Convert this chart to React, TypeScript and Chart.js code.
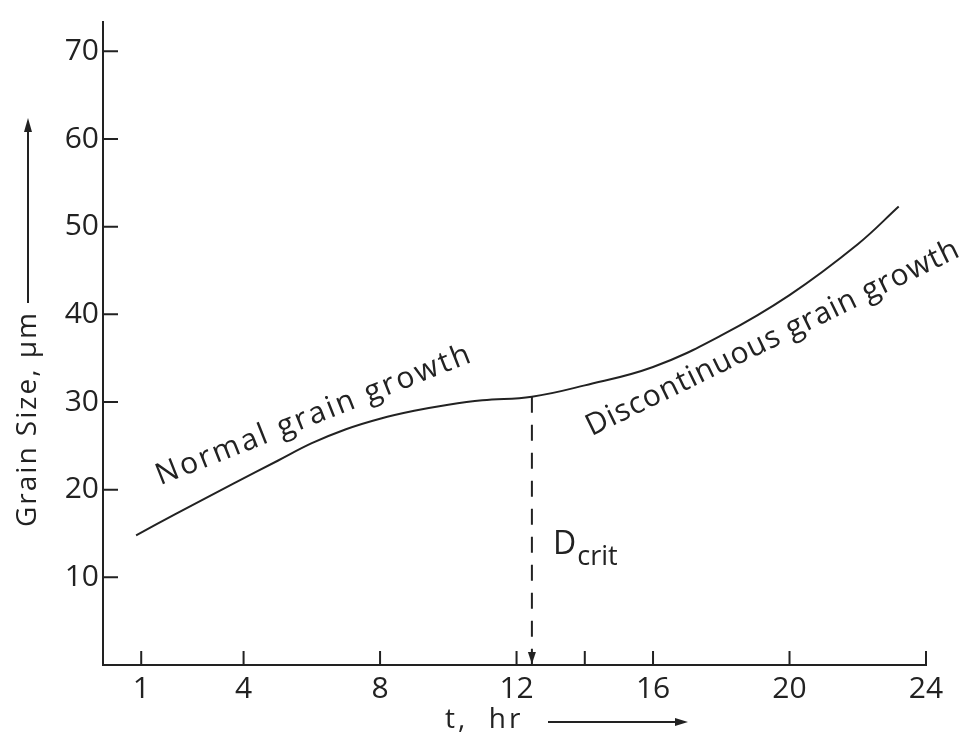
import React, { useEffect, useRef } from 'react';
import { Chart, registerables } from 'chart.js';
Chart.register(...registerables);

// ---- data ----
const normalTime = [0.85, 2, 3.7, 5, 6, 7, 8, 9, 10, 11, 12.45];
const normalSize = [14.8, 17.2, 20.7, 23.3, 25.3, 26.9, 28.1, 29.0, 29.7, 30.2, 30.6];
const discTime = [14, 16, 18, 20, 22, 23.2];
const discSize = [31.9, 34.0, 37.6, 42.2, 48.0, 52.3];
const critTime = [12.45, 12.45];
const critSize = [30.6, 0];
const xTicks = [1, 4, 8, 12, 14, 16, 20, 24];
const xTickLabels = ['1', '4', '8', '12', '', '16', '20', '24'];
const yTicks = [10, 20, 30, 40, 50, 60, 70];
const yTickLabels = ['10', '20', '30', '40', '50', '60', '70'];

const INK = '#222222';
const FONT = "'Open Sans', 'DejaVu Sans', sans-serif";

// annotation anchors in data units
const normalLabel = { text: 'Normal grain growth', x: 1.56, y: 20.5, angle: -21.6 };
const discLabel = { text: 'Discontinuous grain growth', x: 14.2, y: 26.1, angle: -26 };
const critLabel = { main: 'D', sub: 'crit', x: 13.07, y: 12.65 };

function arrowHead(ctx: CanvasRenderingContext2D, tx: number, ty: number, dirX: number, dirY: number, len: number, half: number) {
  const bx = tx - dirX * len, by = ty - dirY * len;
  const nx = -dirY, ny = dirX;
  ctx.beginPath();
  ctx.moveTo(tx, ty);
  ctx.lineTo(bx + nx * half, by + ny * half);
  ctx.lineTo(bx - nx * half, by - ny * half);
  ctx.closePath();
  ctx.fill();
}

const annotPlugin = {
  id: 'annot',
  afterDraw(chart: any) {
    const { ctx, chartArea, scales } = chart;
    const x = scales.x, y = scales.y;
    ctx.save();
    ctx.strokeStyle = INK;
    ctx.fillStyle = INK;
    ctx.lineWidth = 2;
    // inner tick marks
    ctx.beginPath();
    xTicks.forEach((v) => {
      const px = x.getPixelForValue(v);
      ctx.moveTo(px, chartArea.bottom);
      ctx.lineTo(px, chartArea.bottom - 14);
    });
    yTicks.forEach((v) => {
      const py = y.getPixelForValue(v);
      ctx.moveTo(chartArea.left, py);
      ctx.lineTo(chartArea.left + 15, py);
    });
    ctx.stroke();

    // arrow head at foot of D_crit line
    const cx = x.getPixelForValue(critTime[1]);
    const cy = y.getPixelForValue(critSize[1]);
    arrowHead(ctx, cx, cy - 1, 0, 1, 12, 4);

    // rotated curve labels
    const drawRot = (lab: any, size: number, spacing: string) => {
      ctx.save();
      ctx.translate(x.getPixelForValue(lab.x), y.getPixelForValue(lab.y));
      ctx.rotate((lab.angle * Math.PI) / 180);
      ctx.font = `${size}px ${FONT}`;
      (ctx as any).letterSpacing = spacing;
      ctx.textAlign = 'left';
      ctx.textBaseline = 'alphabetic';
      ctx.fillText(lab.text, 0, 0);
      ctx.restore();
    };
    drawRot(normalLabel, 30, '2.5px');
    drawRot(discLabel, 30, '1px');

    // D_crit
    const dx = x.getPixelForValue(critLabel.x);
    const dy = y.getPixelForValue(critLabel.y);
    ctx.font = `32px ${FONT}`;
    ctx.textAlign = 'left';
    ctx.textBaseline = 'alphabetic';
    ctx.fillText(critLabel.main, dx, dy);
    const dw = ctx.measureText(critLabel.main).width;
    ctx.font = `27px ${FONT}`;
    ctx.fillText(critLabel.sub, dx + dw + 1, dy + 11);

    // y axis title with arrow
    ctx.save();
    ctx.translate(28, 527);
    ctx.rotate(-Math.PI / 2);
    ctx.font = `28px ${FONT}`;
    (ctx as any).letterSpacing = '2px';
    ctx.textAlign = 'left';
    ctx.textBaseline = 'middle';
    ctx.fillText('Grain Size, μm', 0, 0);
    const tw = ctx.measureText('Grain Size, μm').width;
    const tip = 527 - 118;
    ctx.beginPath();
    ctx.moveTo(tw + 8, 0);
    ctx.lineTo(tip - 10, 0);
    ctx.stroke();
    arrowHead(ctx, tip, 0, 1, 0, 14, 4);
    ctx.restore();

    // x axis title with arrow
    ctx.font = `28px ${FONT}`;
    (ctx as any).letterSpacing = '3px';
    ctx.textAlign = 'left';
    ctx.textBaseline = 'middle';
    ctx.fillText('t,  hr', 445, 720);
    (ctx as any).letterSpacing = '0px';
    ctx.beginPath();
    ctx.moveTo(548, 722);
    ctx.lineTo(676, 722);
    ctx.stroke();
    arrowHead(ctx, 688, 722, 1, 0, 13, 4);

    ctx.restore();
  },
};

export default function App() {
  const ref = useRef<HTMLCanvasElement | null>(null);
  useEffect(() => {
    document.body.style.margin = '0';
    document.body.style.overflow = 'hidden';
    document.body.style.background = '#ffffff';
    const curve = [
      ...normalTime.map((t, i) => ({ x: t, y: normalSize[i] })),
      ...discTime.map((t, i) => ({ x: t, y: discSize[i] })),
    ];
    const crit = critTime.map((t, i) => ({ x: t, y: critSize[i] }));
    const chart = new Chart(ref.current as HTMLCanvasElement, {
      type: 'scatter',
      data: {
        datasets: [
          {
            label: 'Grain size',
            data: curve,
            showLine: true,
            borderColor: INK,
            borderWidth: 2,
            pointRadius: 0,
            tension: 0.4,
            fill: false,
          } as any,
          {
            label: 'D crit',
            data: crit,
            showLine: true,
            borderColor: INK,
            borderWidth: 2,
            borderDash: [16, 12],
            pointRadius: 0,
            tension: 0,
            fill: false,
          } as any,
        ],
      },
      options: {
        animation: false,
        responsive: false,
        devicePixelRatio: 1,
        layout: { padding: { top: 10, right: 40, left: 0, bottom: 0 } },
        plugins: { legend: { display: false }, tooltip: { enabled: false }, title: { display: false } },
        scales: {
          x: {
            type: 'linear',
            min: -0.12,
            max: 24,
            afterBuildTicks: (s: any) => {
              s.ticks = xTicks.map((v) => ({ value: v }));
            },
            afterFit: (s: any) => {
              s.height = 81;
            },
            grid: { display: false, drawTicks: false },
            border: { display: true, color: INK, width: 2 },
            ticks: {
              autoSkip: false,
              maxRotation: 0,
              padding: 6,
              color: INK,
              font: { family: FONT, size: 30 },
              callback: (v: any) => {
                const i = xTicks.indexOf(Number(v));
                return i >= 0 ? xTickLabels[i] : '';
              },
            },
          },
          y: {
            type: 'linear',
            min: 0,
            max: 73.35,
            afterBuildTicks: (s: any) => {
              s.ticks = yTicks.map((v) => ({ value: v }));
            },
            afterFit: (s: any) => {
              s.width = 103;
            },
            grid: { display: false, drawTicks: false },
            border: { display: true, color: INK, width: 2 },
            ticks: {
              autoSkip: false,
              padding: 4,
              color: INK,
              font: { family: FONT, size: 30 },
              callback: (v: any) => {
                const i = yTicks.indexOf(Number(v));
                return i >= 0 ? yTickLabels[i] : '';
              },
            },
          },
        },
      } as any,
      plugins: [annotPlugin],
    });
    return () => chart.destroy();
  }, []);
  return (
    <div style={{ width: 966, height: 746, background: '#fff' }}>
      <canvas ref={ref} width={966} height={746} />
    </div>
  );
}
